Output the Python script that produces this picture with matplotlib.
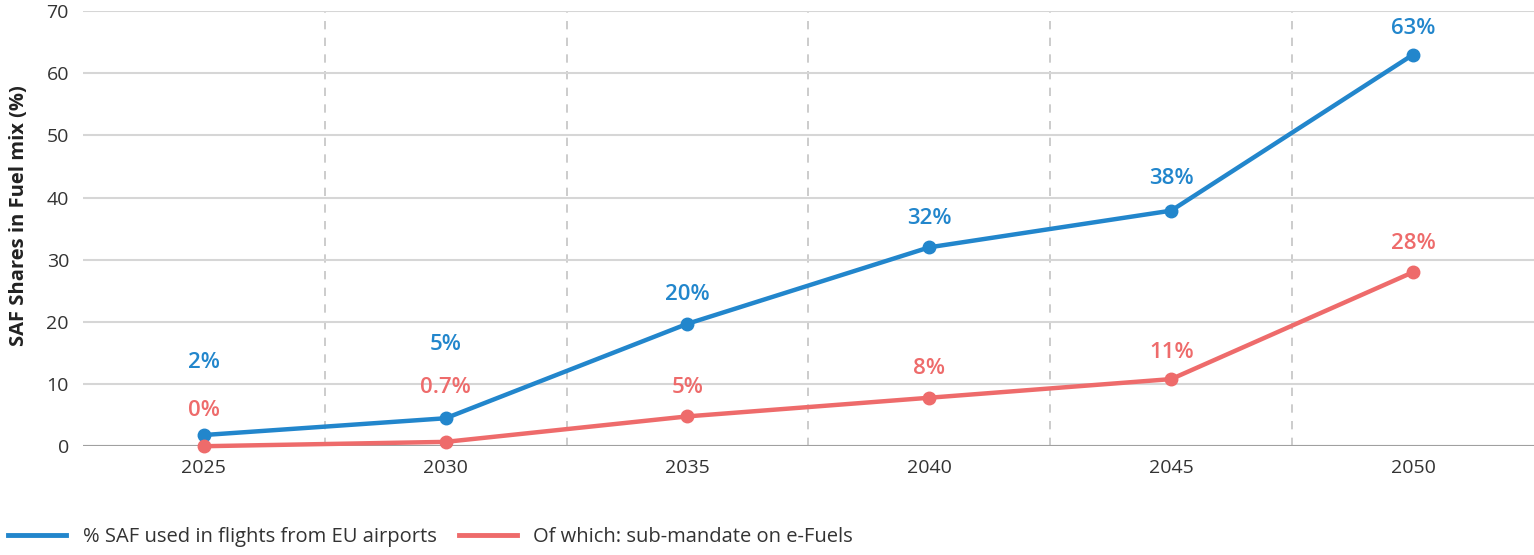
import matplotlib.pyplot as plt
from matplotlib.lines import Line2D

# Dados
anos = ['2025', '2030', '2035', '2040', '2045', '2050']
saf_total = [1.8, 4.5, 19.7, 32.0, 37.9, 63.0]
saf_efuels = [0.0, 0.7, 4.8, 7.8, 10.8, 28.0]
rotulos_total = ['2%', '5%', '20%', '32%', '38%', '63%']
rotulos_efuels = ['0%', '0.7%', '5%', '8%', '11%', '28%']
nomes = ['% SAF used in flights from EU airports', 'Of which: sub-mandate on e-Fuels']

azul = '#2286cc'
vermelho = '#ee6b6b'

plt.rcParams['font.family'] = ['Open Sans', 'DejaVu Sans']

fig = plt.figure(figsize=(15.34, 5.55), dpi=100)
ax = fig.add_axes([0.054, 0.196, 0.946, 0.784])

x = list(range(len(anos)))

# Grade
ax.set_axisbelow(True)
ax.yaxis.grid(True, color='#d6d6d6', lw=1.5)
for xv in [0.5, 1.5, 2.5, 3.5, 4.5]:
    ax.axvline(xv, color='#c4c4c4', lw=1.2, ls=(0, (5, 5)), zorder=0)
ax.axhline(0, color='#a0a0a0', lw=1.5, zorder=1)

ax.plot(x, saf_total, color=azul, lw=3.2, marker='o', ms=9, zorder=3, clip_on=False)
ax.plot(x, saf_efuels, color=vermelho, lw=3.2, marker='o', ms=9, zorder=3, clip_on=False)

# Rótulos (deslocamento em pontos)
desloc_total = [52, 53, 21, 21, 23, 19]
desloc_efuels = [26, 39, 21, 21, 19, 21]
for i in x:
    ax.annotate(rotulos_total[i], (i, saf_total[i]), xytext=(0, desloc_total[i]),
                textcoords='offset points', ha='center', va='center',
                color=azul, fontsize=16, fontweight='semibold')
    ax.annotate(rotulos_efuels[i], (i, saf_efuels[i]), xytext=(0, desloc_efuels[i]),
                textcoords='offset points', ha='center', va='center',
                color=vermelho, fontsize=16, fontweight='semibold')

ax.set_xlim(-0.5, 5.5)
ax.set_ylim(0, 70)
ax.set_yticks(range(0, 71, 10))
ax.set_xticks(x)
ax.set_xticklabels(anos)
ax.tick_params(length=0, labelsize=14, labelcolor='#333333', pad=9)
ax.tick_params(axis='y', pad=10)
for s in ax.spines.values():
    s.set_visible(False)

ax.set_ylabel('SAF Shares in Fuel mix (%)', fontsize=14.5, fontweight='bold',
              color='#222222')
ax.yaxis.set_label_coords(-0.037, 0.531)

# Legenda sem marcadores
alcas = [Line2D([], [], color=azul, lw=3.5), Line2D([], [], color=vermelho, lw=3.5)]
fig.legend(alcas, nomes, loc='lower left', bbox_to_anchor=(0.0, 0.0), ncol=2,
           frameon=False, fontsize=14.5, handlelength=2.9, columnspacing=1.1,
           handletextpad=0.8, borderaxespad=0.2, borderpad=0.2, labelcolor='#333333')

plt.savefig('out.png', dpi=100)
